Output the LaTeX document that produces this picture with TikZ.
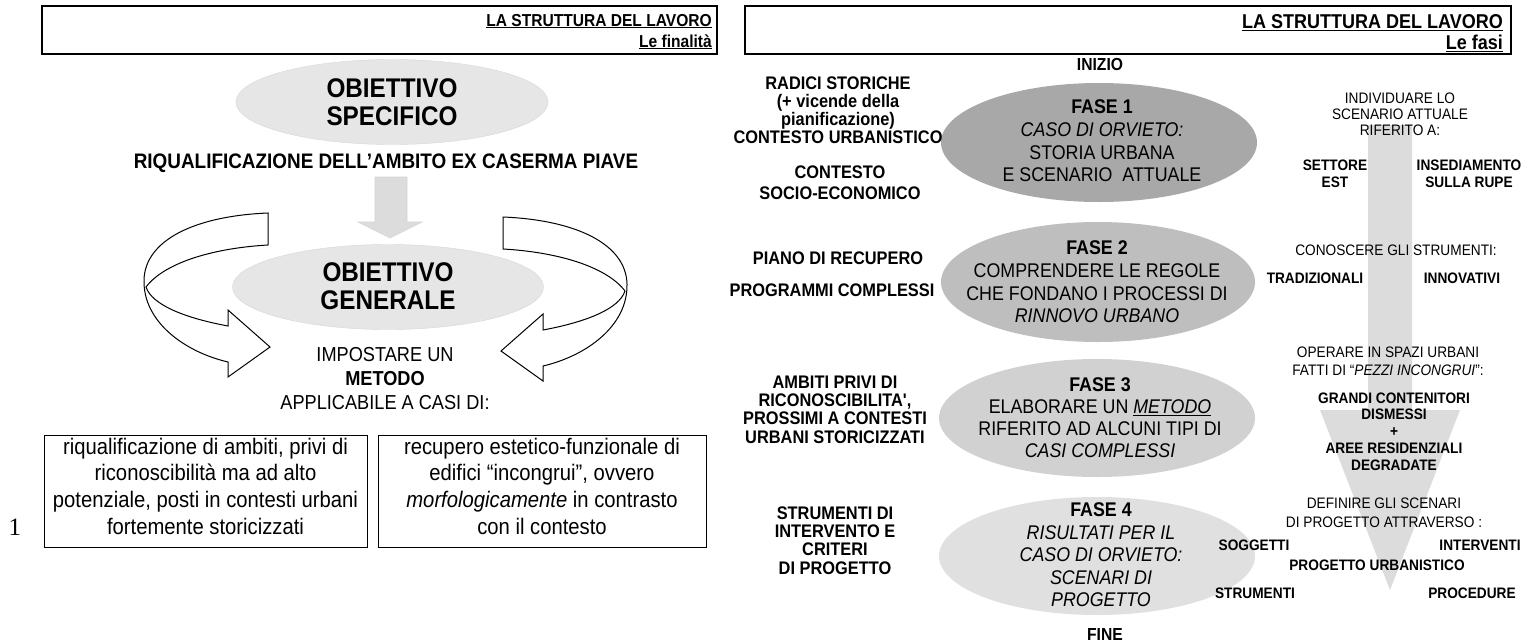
\documentclass[tikz,border=0pt]{standalone}
\usepackage{fontspec}
\newfontfamily\ar{Liberation Sans}[FakeStretch=0.9]
\newfontfamily\lserif{Liberation Serif}
\usetikzlibrary{shapes.geometric}
\definecolor{ellL}{HTML}{E6E6E6}
\definecolor{ellLb}{HTML}{D6D6D6}
\definecolor{fA}{HTML}{A8A8A8}
\definecolor{fB}{HTML}{BEBEBE}
\definecolor{fC}{HTML}{D1D1D1}
\definecolor{fD}{HTML}{E0E0E0}
\definecolor{arrG}{HTML}{DCDCDC}
\tikzset{
  hdrbox/.style={draw=black, line width=1.5pt, anchor=north west, inner sep=0pt},
  hdrtxt/.style={font=\ar\bfseries\fontsize{#1}{21}\selectfont, align=right, anchor=north east, inner sep=0pt},
  ell/.style={ellipse, inner sep=0pt, draw=none},
  bigtxt/.style={font=\ar\bfseries\fontsize{27}{28}\selectfont, align=center, inner sep=0pt},
  midtxt/.style={font=\ar\fontsize{20.2}{24}\selectfont, align=center, inner sep=0pt},
  txtbox/.style={draw=black, line width=1.3pt, anchor=north west, inner sep=0pt},
  boxtxt/.style={font=\ar\fontsize{22.5}{26.7}\selectfont, align=center, inner sep=0pt},
  lcol/.style={font=\ar\bfseries\fontsize{18.2}{#1}\selectfont, align=center, inner sep=0pt},
  fasetxt/.style={font=\ar\fontsize{19.8}{#1}\selectfont, align=center, inner sep=0pt},
  rcolb/.style={font=\ar\bfseries\fontsize{15.2}{#1}\selectfont, align=center, inner sep=0pt},
  rcolr/.style={font=\ar\fontsize{15.2}{#1}\selectfont, align=center, inner sep=0pt},
  endtxt/.style={font=\ar\bfseries\fontsize{17.4}{18}\selectfont, inner sep=0pt},
  ringarrow/.style={draw=black, line width=1pt, fill=white, line join=miter},
}
\begin{document}
\begin{tikzpicture}[x=1pt,y=-1pt]
\useasboundingbox (0,0) rectangle (1531,643);
\fill[white] (0,0) rectangle (1531,643);

% ================= LEFT PANEL =================
\node[hdrbox, minimum width=675pt, minimum height=48pt] (hL) at (41,5) {};
\node[hdrtxt=17.3] (hLt) at (712,13.8) {\underline{LA STRUTTURA DEL LAVORO}\\\underline{Le finalità}};

\node[ell, fill=ellL, draw=ellLb, line width=0.4pt, minimum width=312pt, minimum height=85pt] (eS) at (392,102) {};
\node[bigtxt] (tS) at (392,102.5) {OBIETTIVO\\SPECIFICO};

\node[font=\ar\bfseries\fontsize{21}{22}\selectfont, inner sep=0pt] (riq) at (386,163) {RIQUALIFICAZIONE DELL’AMBITO EX CASERMA PIAVE};

% down arrow
\filldraw[fill=arrG, draw=ellLb, line width=0.6pt] (375,177) -- (407,177) -- (407,222) -- (422,222) -- (390,238) -- (358,222) -- (375,222) -- cycle;

\node[ell, fill=ellL, draw=ellLb, line width=0.4pt, minimum width=311pt, minimum height=85pt] (eG) at (388,287) {};
\node[bigtxt] (tG) at (388,286.5) {OBIETTIVO\\GENERALE};

% ring arrows
\path[ringarrow] (268,213) .. controls (195,216) and (145,240) .. (144,280)
  .. controls (143,322) and (185,352) .. (228,362) -- (228,377) -- (270,347) -- (228,310) -- (228,326)
  .. controls (185,318) and (152,305) .. (146,287)
  .. controls (165,262) and (215,248) .. (268,245) -- cycle;
\begin{scope}[shift={(771,4)}, xscale=-1]
\path[ringarrow] (268,213) .. controls (195,216) and (145,240) .. (144,280)
  .. controls (143,322) and (185,352) .. (228,362) -- (228,377) -- (270,347) -- (228,310) -- (228,326)
  .. controls (185,318) and (152,305) .. (146,287)
  .. controls (165,262) and (215,248) .. (268,245) -- cycle;
\end{scope}

\node[midtxt] (imp) at (385,379) {IMPOSTARE UN\\\textbf{METODO}\\APPLICABILE A CASI DI:};

\node[txtbox, minimum width=323pt, minimum height=112pt] (bL) at (44,435) {};
\node[boxtxt] (bLt) at (205.5,486) {riqualificazione di ambiti, privi di\\riconoscibilità ma ad alto\\potenziale, posti in contesti urbani\\fortemente storicizzati};
\node[txtbox, minimum width=328pt, minimum height=112pt] (bR) at (378,435) {};
\node[boxtxt] (bRt) at (542,486) {recupero estetico-funzionale di\\edifici “incongrui”, ovvero\\\textit{morfologicamente} in contrasto\\con il contesto};

\node[font=\lserif\fontsize{25}{26}\selectfont, inner sep=0pt] (num) at (15,527) {1};

% ================= RIGHT PANEL =================
\node[hdrbox, minimum width=766pt, minimum height=48pt] (hR) at (744,5) {};
\node[hdrtxt=20] (hRt) at (1503,14.8) {\underline{LA STRUTTURA DEL LAVORO}\\\underline{Le fasi}};

% big vertical arrow
\fill[arrG] (1368,125) -- (1412,125) -- (1412,410) -- (1460,410) -- (1390,590) -- (1320,410) -- (1368,410) -- cycle;

\node[ell, fill=fA, minimum width=316pt, minimum height=119pt] (e1) at (1099,142.5) {};
\node[ell, fill=fB, minimum width=314pt, minimum height=120pt] (e2) at (1098,282) {};
\node[ell, fill=fC, minimum width=316pt, minimum height=118pt] (e3) at (1097,418) {};
\node[ell, fill=fD, minimum width=316pt, minimum height=118pt] (e4) at (1097,556) {};

\node[fasetxt=22.7] (t1) at (1102,141) {\textbf{FASE 1}\\\textit{CASO DI ORVIETO:}\\STORIA URBANA\\E SCENARIO\ \ ATTUALE};
\node[fasetxt=22.7] (t2) at (1097,282) {\textbf{FASE 2}\\COMPRENDERE LE REGOLE\\CHE FONDANO I PROCESSI DI\\\textit{RINNOVO URBANO}};
\node[fasetxt=22] (t3) at (1100,418) {\textbf{FASE 3}\\ELABORARE UN \underline{\textit{METODO}}\\RIFERITO AD ALCUNI TIPI DI\\\textit{CASI COMPLESSI}};
\node[fasetxt=22.5] (t4) at (1101,555) {\textbf{FASE 4}\\\textit{RISULTATI PER IL}\\\textit{CASO DI ORVIETO:}\\\textit{SCENARI DI}\\\textit{PROGETTO}};

\node[endtxt] (ini) at (1100,65) {INIZIO};
\node[endtxt] (fin) at (1105,635) {FINE};

% left column
\node[lcol=18] (g1) at (838,110) {RADICI STORICHE\\(+ vicende della\\pianificazione)\\CONTESTO URBANISTICO};
\node[lcol=21] (g2) at (840,182.5) {CONTESTO\\SOCIO-ECONOMICO};
\node[lcol=18] (g3) at (838,258) {PIANO DI RECUPERO};
\node[lcol=18] (g4) at (832,290) {PROGRAMMI COMPLESSI};
\node[lcol=18.3] (g5) at (835,409.5) {AMBITI PRIVI DI\\RICONOSCIBILITA',\\PROSSIMI A CONTESTI\\URBANI STORICIZZATI};
\node[lcol=18.3] (g6) at (835,540.5) {STRUMENTI DI\\INTERVENTO E\\CRITERI\\DI PROGETTO};

% right column
\node[rcolr=16] (r1) at (1400,114) {INDIVIDUARE LO\\SCENARIO ATTUALE\\RIFERITO A:};
\node[rcolb=17] (r2) at (1335,173.5) {SETTORE\\EST};
\node[rcolb=17] (r3) at (1469,173.5) {INSEDIAMENTO\\SULLA RUPE};
\node[rcolr=16] (r4) at (1396,250) {CONOSCERE GLI STRUMENTI:};
\node[rcolb=16] (r5a) at (1315,278) {TRADIZIONALI};
\node[rcolb=16] (r5b) at (1462,278) {INNOVATIVI};
\node[rcolr=18] (r6) at (1388,361) {OPERARE IN SPAZI URBANI\\FATTI DI “\textit{PEZZI INCONGRUI}”:};
\node[rcolb=16.75] (r7) at (1394,431.5) {GRANDI CONTENITORI\\DISMESSI\\+\\AREE RESIDENZIALI\\DEGRADATE};
\node[rcolr=19] (r8) at (1384,512.5) {DEFINIRE GLI SCENARI\\DI PROGETTO ATTRAVERSO :};
\node[rcolb=16] (r9a) at (1254,545) {SOGGETTI};
\node[rcolb=16] (r9b) at (1480,545) {INTERVENTI};
\node[rcolb=16] (r10) at (1377,565) {PROGETTO URBANISTICO};
\node[rcolb=16] (r11a) at (1255,593) {STRUMENTI};
\node[rcolb=16] (r11b) at (1472,593) {PROCEDURE};
\end{tikzpicture}
\end{document}
